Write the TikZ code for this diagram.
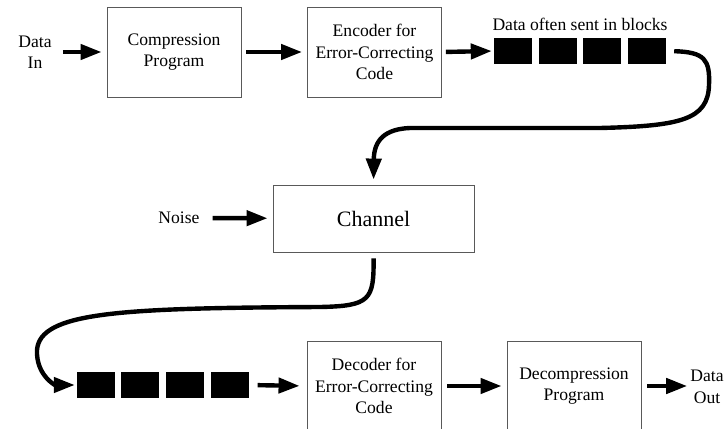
\documentclass[tikz,border=0pt]{standalone}
\usepackage{fontspec}
\setmainfont{Liberation Serif}
\usetikzlibrary{arrows.meta}
\begin{document}
\begin{tikzpicture}[x=1pt,y=-1pt,
  txt/.style={font=\fontsize{17.6}{21.5}\selectfont},
  box/.style={txt, draw=black!65, line width=0.9pt, minimum width=134pt,
    minimum height=90pt, align=center, inner sep=0pt},
  blk/.style={fill=black, minimum width=38pt, minimum height=26pt, inner sep=0pt},
  lbl/.style={txt, align=center, inner sep=0pt},
  arr/.style={line width=4.4pt, -{Triangle[length=21pt,width=15pt]}},
]
\useasboundingbox (0,0) rectangle (727,428);
\clip (0,0) rectangle (727,428);

% sending side
\node[lbl] (din) at (35,52) {Data\\In};
\node[box] (comp) at (174,52) {Compression\\Program};
\node[box] (enc) at (374.5,52) {Encoder for\\Error-Correcting\\Code};
\node[blk] (b1) at (513,51) {};
\node[blk] (b2) at (558,51) {};
\node[blk] (b3) at (602,51) {};
\node[blk] (b4) at (647,51) {};
\node[lbl] (blab) at (580,24) {Data often sent in blocks};

% channel
\node[box, minimum width=201pt, minimum height=67pt,
  font=\fontsize{22}{26}\selectfont] (chan) at (373.5,218.5) {Channel};
\node[lbl] (noise) at (179,218) {Noise};

% receiving side
\node[blk] (b5) at (96,385) {};
\node[blk] (b6) at (140,385) {};
\node[blk] (b7) at (185,385) {};
\node[blk] (b8) at (229.5,385) {};
\node[box] (dec) at (374,386) {Decoder for\\Error-Correcting\\Code};
\node[box] (decomp) at (574,386) {Decompression\\Program};
\node[lbl] (dout) at (707,387) {Data\\Out};

% straight connectors
\draw[arr, shorten <=11pt, shorten >=5pt] (din) -- (comp);
\draw[arr, shorten <=5pt, shorten >=5pt] (comp) -- (enc);
\draw[arr, shorten <=4pt, shorten >=2pt] (enc.east) -- (b1.west);
\draw[arr, shorten <=13pt, shorten >=5pt] (noise) -- (chan);
\draw[arr, shorten <=9pt, shorten >=7pt] (b8.east) -- (dec.west);
\draw[arr, shorten <=6pt, shorten >=5pt] (dec) -- (decomp);
\draw[arr, shorten <=6pt, shorten >=3pt] (decomp.east) -- (dout.west |- decomp.east);

% blocks into the channel
\draw[arr, shorten <=8pt, shorten >=5pt] (b4.east)
  .. controls (705,52) and (710,60) .. (709,85)
  .. controls (708,120) and (680,126) .. (600,128)
  -- (410,128)
  .. controls (385,129) and (374,140) .. (chan.north);

% channel out to the received blocks
\draw[arr, shorten <=6pt, shorten >=2pt] (chan.south)
  .. controls (374,300) and (370,306) .. (320,307)
  .. controls (120,308) and (40,312) .. (37,350)
  .. controls (36,375) and (55,385) .. (b5.west);
\end{tikzpicture}
\end{document}
